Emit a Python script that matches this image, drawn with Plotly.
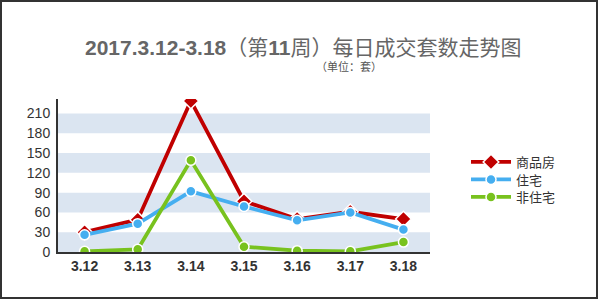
import plotly.graph_objects as go

categories = ["3.12", "3.13", "3.14", "3.15", "3.16", "3.17", "3.18"]
commercial = [30, 49, 229, 77, 50, 61, 50]      # 商品房
residential = [26, 43, 92, 69, 48, 60, 34]      # 住宅
non_residential = [1, 4, 139, 8, 2, 1, 15]      # 非住宅
y_ticks = [0, 30, 60, 90, 120, 150, 180, 210]

title_text = "<b>2017.3.12-3.18</b>（第<b>11</b>周）每日成交套数走势图"
unit_text = "（单位：套）"

fig = go.Figure()

series = [
    ("商品房", commercial, "#c00000", "diamond", 12, "legend", 162),
    ("住宅", residential, "#45aef0", "circle", 10, "legend2", 179.5),
    ("非住宅", non_residential, "#78c21e", "circle", 10, "legend3", 197),
]
legend_cfg = {}
for name, vals, color, sym, msize, lg, ly in series:
    fig.add_trace(go.Scatter(
        x=categories, y=vals, name=name, mode="lines+markers",
        line=dict(color=color, width=3.8),
        marker=dict(symbol=sym, size=msize, color=color,
                    line=dict(color="white", width=1.5)),
        legend=lg,
    ))
    legend_cfg[lg] = dict(xref="container", yref="container", x=466/600, y=1 - ly/301,
                          xanchor="left", yanchor="middle", itemwidth=40,
                          font=dict(family="Noto Sans CJK SC", size=13, color="#333333"),
                          bgcolor="rgba(0,0,0,0)")

# alternating bands
shapes = []
for i in range(0, len(y_ticks) - 1, 2):
    shapes.append(dict(type="rect", xref="paper", yref="y", x0=0, x1=1,
                       y0=y_ticks[i], y1=y_ticks[i + 1],
                       fillcolor="#dbe5f1", line=dict(width=0), layer="below"))
# outer frame
shapes.append(dict(type="rect", xref="paper", yref="paper",
                   x0=-57/372, x1=(597-58)/372, y0=-(298-252)/153, y1=(252-1)/153,
                   line=dict(color="#333333", width=2), fillcolor="rgba(0,0,0,0)"))

fig.update_layout(
    width=600, height=301,
    margin=dict(l=58, r=170, t=99, b=49),
    paper_bgcolor="white", plot_bgcolor="white",
    shapes=shapes,
    showlegend=True,
    **legend_cfg,
    xaxis=dict(type="category", range=[-0.5, 6.5], showgrid=False,
               showline=True, linecolor="#333333", linewidth=2,
               ticks="", tickfont=dict(family="Arial", size=14, color="#333333",
                                       weight="bold"),
               fixedrange=True),
    yaxis=dict(range=[0, 232], tickvals=y_ticks, showgrid=False,
               showline=True, linecolor="#333333", linewidth=2, zeroline=False,
               ticks="", tickfont=dict(family="Arial", size=14, color="#333333"),
               ticklabelstandoff=3),
    annotations=[
        dict(text=title_text, xref="paper", yref="paper", x=(303-58)/372,
             y=(252-47)/153, xanchor="center", yanchor="middle", showarrow=False,
             font=dict(family="Arial, Noto Sans CJK SC", size=21, color="#666666")),
        dict(text=unit_text, xref="paper", yref="paper", x=(349-58)/372,
             y=(252-66)/153, xanchor="center", yanchor="middle", showarrow=False,
             font=dict(family="Noto Sans CJK SC", size=11, color="#555555")),
    ],
)

fig.write_html("out.html")
